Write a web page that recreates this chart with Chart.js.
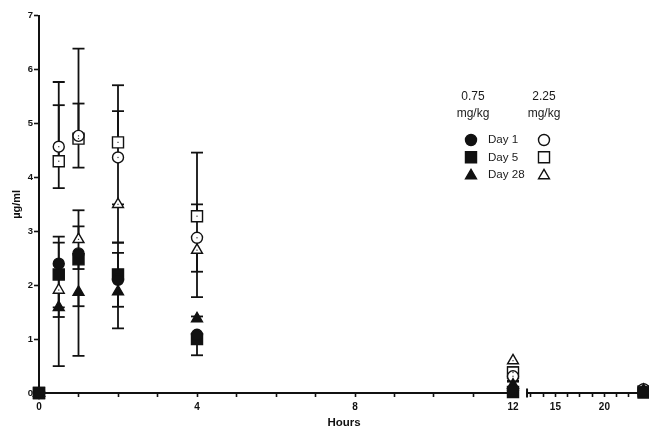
<!DOCTYPE html>
<html><head><meta charset="utf-8">
<script src="https://cdn.jsdelivr.net/npm/chart.js@4.4.1/dist/chart.umd.min.js"></script>
<style>html,body{margin:0;padding:0;background:#fff;}#wrap{width:649px;height:426px;}</style>
</head><body><div id="wrap"><canvas id="c" width="649" height="426"></canvas></div>
<script>
// ---- data (hours after dose, concentration in µg/ml) ----
const hours = [0, 0.5, 1, 2, 4, 12, 24];

// 0.75 mg/kg
const day1Low  = [0, 2.40, 2.59, 2.10, 1.08, 0.05, 0.03];
const day5Low  = [0, 2.20, 2.48, 2.20, 1.00, 0.02, 0.01];
const day28Low = [0, 1.59, 1.87, 1.88, 1.38, 0.15, 0.05];
// 2.25 mg/kg
const day1High  = [0, 4.57, 4.77, 4.37, 2.88, 0.31, 0.07];
const day5High  = [0, 4.30, 4.72, 4.65, 3.28, 0.38, 0.03];
const day28High = [0, 1.91, 2.85, 3.50, 2.65, 0.60, 0.05];

// error bars (upper / lower extent, µg/ml)
const day1LowUp   = [0, 0.50, 0.50, 0.50, 0, 0, 0];
const day1LowDn   = [0, 1.90, 1.90, 0.90, 0.38, 0, 0];
const day5LowUp   = [0, 0.59, 0, 0.59, 0, 0, 0];
const day5LowDn   = [0, 0.61, 0.18, 0, 0, 0, 0];
const day28LowUp  = [0, 0, 0, 0, 0.04, 0.08, 0];
const day28LowDn  = [0, 0, 0.26, 0.28, 0, 0, 0];
const day1HighUp  = [0, 1.20, 1.62, 0.86, 0.62, 0, 0];
const day1HighDn  = [0, 0.77, 0.59, 0.87, 1.10, 0.10, 0];
const day5HighUp  = [0, 1.04, 0.65, 1.06, 1.18, 0.10, 0];
const day5HighDn  = [0, 0, 0, 0, 0, 0, 0];
const day28HighUp = [0, 0, 0.54, 0, 0, 0, 0];
const day28HighDn = [0, 0.50, 0, 0.71, 0.40, 0, 0];

// axis ticks (hours)
const tickHoursA = [0,1,2,3,4,5,6,7,8,9,10,11,12];
const tickHoursB = [12.5,13.75,15,16.25,17.5,18.75,20,21.25,22.5,23.75];
const labeledA = [0,4,8,12];
const labeledB = [15,20];
const seriesNames = ['Day 1','Day 5','Day 28'];
const doseHeaders = [['0.75','mg/kg'],['2.25','mg/kg']];

// ---- broken x axis mapping ----
const BREAK_H = 12, GAP = 0.33, COMPRESS = 0.248;
function disp(h){ return h <= BREAK_H ? h : BREAK_H + GAP + (h - BREAK_H) * COMPRESS; }

const INK = '#111';
const FONT = "'Liberation Sans', Arial, sans-serif";

function mk(label, vals, up, dn, style, radius, filled){
  return {
    label, data: hours.map((h,i)=>({x: disp(h), y: vals[i]})),
    errUp: up, errDn: dn, open: !filled,
    showLine: false, pointStyle: style, pointRadius: radius, pointHoverRadius: radius,
    pointBorderWidth: 1.4, pointBorderColor: INK,
    pointBackgroundColor: filled ? INK : '#fff',
    borderColor: INK, backgroundColor: filled ? INK : '#fff', clip: false
  };
}

const datasets = [
  mk('Day 1 0.75', day1Low, day1LowUp, day1LowDn, 'circle', 5.5, true),
  mk('Day 5 0.75', day5Low, day5LowUp, day5LowDn, 'rect', 7.8, true),
  mk('Day 28 0.75', day28Low, day28LowUp, day28LowDn, 'triangle', 6.3, true),
  mk('Day 1 2.25', day1High, day1HighUp, day1HighDn, 'circle', 5.5, false),
  mk('Day 5 2.25', day5High, day5HighUp, day5HighDn, 'rect', 7.8, false),
  mk('Day 28 2.25', day28High, day28HighUp, day28HighDn, 'triangle', 6.3, false)
];

const errorBars = {
  id: 'errorBars',
  beforeDatasetsDraw(chart){
    const {ctx, scales:{x, y}} = chart;
    ctx.save();
    ctx.strokeStyle = INK; ctx.lineWidth = 1.8;
    chart.data.datasets.forEach(ds => {
      ds.data.forEach((p, i) => {
        const up = ds.errUp[i], dn = ds.errDn[i];
        if (!up && !dn) return;
        const px = x.getPixelForValue(p.x);
        const yt = y.getPixelForValue(p.y + up), yb = y.getPixelForValue(p.y - dn);
        ctx.beginPath(); ctx.moveTo(px, yt); ctx.lineTo(px, yb); ctx.stroke();
        ctx.beginPath();
        if (up) { ctx.moveTo(px-6, yt); ctx.lineTo(px+6, yt); }
        if (dn) { ctx.moveTo(px-6, yb); ctx.lineTo(px+6, yb); }
        ctx.stroke();
      });
    });
    ctx.restore();
  },
  afterDatasetsDraw(chart){
    const {ctx, scales:{x, y}} = chart;
    ctx.save(); ctx.fillStyle = '#333';
    chart.data.datasets.forEach(ds => {
      if (!ds.open) return;
      ds.data.forEach(p => {
        if (p.y < 0.2) return;
        ctx.fillRect(x.getPixelForValue(p.x)-0.6, y.getPixelForValue(p.y)-0.6, 1.2, 1.2);
      });
    });
    ctx.restore();
  }
};

const brokenAxis = {
  id: 'brokenAxis',
  afterDraw(chart){
    const {ctx, chartArea, scales:{x}} = chart;
    const y0 = chartArea.bottom;
    const aEnd = x.getPixelForValue(disp(BREAK_H)) + 1.5;
    const bStart = x.getPixelForValue(BREAK_H + GAP);
    ctx.save();
    ctx.strokeStyle = INK; ctx.lineWidth = 2;
    ctx.beginPath();
    ctx.moveTo(chartArea.left - 1, y0); ctx.lineTo(aEnd, y0);
    ctx.moveTo(bStart, y0); ctx.lineTo(chartArea.right, y0);
    ctx.stroke();
    ctx.lineWidth = 2;
    ctx.beginPath(); ctx.moveTo(bStart+1, y0-4.5); ctx.lineTo(bStart+1, y0+4.5); ctx.stroke();
    ctx.restore();
  }
};

function sym(ctx, style, r, cx, cy, filled){
  ctx.save();
  ctx.fillStyle = filled ? INK : '#fff';
  ctx.strokeStyle = INK; ctx.lineWidth = 1.4;
  ctx.beginPath();
  if (style === 'circle') ctx.arc(cx, cy, r, 0, Math.PI*2);
  else if (style === 'rect') { const s = r*Math.SQRT1_2; ctx.rect(cx-s, cy-s, 2*s, 2*s); }
  else { ctx.moveTo(cx, cy-r); ctx.lineTo(cx + r*Math.sin(Math.PI*2/3), cy - r*Math.cos(Math.PI*2/3));
         ctx.lineTo(cx - r*Math.sin(Math.PI*2/3), cy - r*Math.cos(Math.PI*2/3)); ctx.closePath(); }
  ctx.fill(); ctx.stroke();
  ctx.restore();
}

const tableLegend = {
  id: 'tableLegend',
  afterDraw(chart){
    const ctx = chart.ctx;
    ctx.save();
    ctx.fillStyle = '#1a1a1a';
    ctx.textBaseline = 'middle';
    ctx.font = '12px ' + FONT;
    ctx.textAlign = 'center';
    const colX = [473, 544];
    doseHeaders.forEach((h, i) => {
      ctx.fillText(h[0], colX[i], 97);
      ctx.fillText(h[1], colX[i], 113.5);
    });
    const rowY = [140, 157.3, 174.6];
    ctx.font = '11.6px ' + FONT;
    ctx.textAlign = 'left';
    seriesNames.forEach((n, i) => {
      const ds = datasets[i];
      const dsO = datasets[i+3];
      const oy = ds.pointStyle === 'triangle' ? 1 : 0;
      sym(ctx, ds.pointStyle, ds.pointRadius, 471, rowY[i] + oy, true);
      ctx.fillStyle = '#1a1a1a';
      ctx.fillText(n, 488, rowY[i]);
      sym(ctx, dsO.pointStyle, dsO.pointRadius, 544, rowY[i] + oy, false);
    });
    ctx.restore();
  }
};

new Chart(document.getElementById('c'), {
  type: 'scatter',
  data: { datasets },
  options: {
    responsive: false, animation: false, devicePixelRatio: 1,
    layout: { autoPadding: false, padding: { top: 15.7, right: 0, bottom: 0, left: 0 } },
    plugins: { legend: { display: false }, tooltip: { enabled: false } },
    scales: {
      x: {
        type: 'linear', min: 0, max: 610/39.5,
        afterFit(s){ s.height = 33; },
        afterBuildTicks(s){
          const t = tickHoursA.map(h => ({value: disp(h), hour: h, lab: labeledA.includes(h)}))
            .concat(tickHoursB.map(h => ({value: disp(h), hour: h, lab: labeledB.includes(h)})));
          s.ticks = t;
        },
        ticks: {
          autoSkip: false, maxRotation: 0, padding: 4.5, color: INK,
          font: { family: FONT, size: 10, weight: 'bold' },
          callback(v, i, ticks){ const t = ticks[i]; return t && t.lab ? String(t.hour) : ''; }
        },
        grid: { display: true, drawOnChartArea: false, drawTicks: true, tickLength: 4, tickColor: INK, tickWidth: 1.6 },
        border: { display: false },
        title: { display: true, text: 'Hours', color: INK, padding: { top: 0, bottom: -3 },
                 font: { family: FONT, size: 11.5, weight: 'bold', lineHeight: 1 } }
      },
      y: {
        min: 0, max: 7,
        afterFit(s){ s.width = 39; },
        ticks: { stepSize: 1, padding: 1, color: INK, font: { family: FONT, size: 9.5, weight: 'bold' } },
        grid: { display: true, drawOnChartArea: false, drawTicks: true, tickLength: 5, tickColor: INK, tickWidth: 1.6 },
        border: { display: true, color: INK, width: 2 },
        title: { display: true, text: 'µg/ml', color: INK, padding: { top: 10, bottom: 0 },
                 font: { family: FONT, size: 11, weight: 'bold', lineHeight: 1.2 } }
      }
    }
  },
  plugins: [errorBars, brokenAxis, tableLegend]
});
</script>
</body></html>
